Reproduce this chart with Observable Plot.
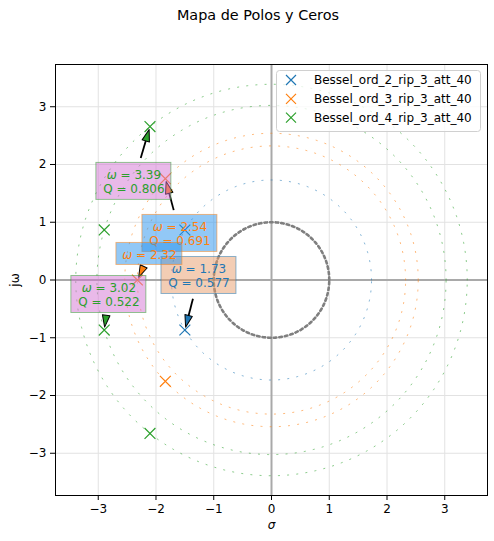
<!DOCTYPE html>
<html><head><meta charset="utf-8">
<script src="https://cdn.jsdelivr.net/npm/d3@7"></script>
<script src="https://cdn.jsdelivr.net/npm/@observablehq/plot@0.6"></script>
<style>
body{margin:0;background:#fff;font-family:"DejaVu Sans",sans-serif}
#wrap{position:relative;width:494px;height:541px;overflow:hidden}
#title{position:absolute;top:7px;left:0;width:516px;text-align:center;font-size:14.4px;color:#000}
#legend{position:absolute;left:276px;top:70px}
#wrap > svg.plot{position:absolute;left:0;top:0}
</style></head>
<body><div id="wrap"><div id="title">Mapa de Polos y Ceros</div></div>
<script>
// ---------- data ----------
const seriesNames = ["Bessel_ord_2_rip_3_att_40", "Bessel_ord_3_rip_3_att_40", "Bessel_ord_4_rip_3_att_40"];
const seriesColors = ["#1f77b4", "#ff7f0e", "#2ca02c"];

const poleSeries = [0, 0, 1, 1, 1, 2, 2, 2, 2];
const poleRe = [-1.5, -1.5, -1.838, -1.838, -2.322, -2.896, -2.896, -2.104, -2.104];
const poleIm = [0.866, -0.866, 1.754, -1.754, 0, 0.867, -0.867, 2.657, -2.657];

const annSeries = [0, 1, 1, 2, 2];
const annLabel = ["ω = 1.73\nQ = 0.577", "ω = 2.54\nQ = 0.691", "ω = 2.32", "ω = 3.39\nQ = 0.806", "ω = 3.02\nQ = 0.522"];
const annTargetRe = [-1.5, -1.838, -2.322, -2.104, -2.896];
const annTargetIm = [-0.866, 1.754, 0, 2.657, -0.867];
const annTextRe = [-1.256, -1.586, -2.114, -2.383, -2.816];
const annTextIm = [0.078, 0.806, 0.451, 1.707, -0.251];
const annBoxFill = ["#e79b69", "#2591ed", "#2591ed", "#d373d3", "#d373d3"];

const xTicks = [-3, -2, -1, 0, 1, 2, 3];
const yTicks = [-3, -2, -1, 0, 1, 2, 3];

// ---------- layout ----------
const W = 494, H = 541, ML = 55, MR = 7, MT = 64, MB = 46;
const xDomain = [-3.74, 3.74];
const k = (W - ML - MR) / (xDomain[1] - xDomain[0]);
const yHalf = (H - MT - MB) / k / 2;
const yDomain = [-yHalf, yHalf];

// ---------- derived tables ----------
const poles = poleRe.map((re, i) => ({re, im: poleIm[i], color: seriesColors[poleSeries[i]]}));

const angles = d3.range(0, 361, 1).map(a => a * Math.PI / 180);
const unitCircle = angles.map(a => ({x: Math.cos(a), y: Math.sin(a)}));

const circleDefs = [];
poles.forEach((p, i) => {
  if (p.im < 0) return;
  const r = Math.hypot(p.re, p.im);
  circleDefs.push({id: i, r, color: p.color});
});
const poleCircles = circleDefs.flatMap(c => angles.map(a => ({id: c.id, x: c.r * Math.cos(a), y: c.r * Math.sin(a), color: c.color})));

const anns = annLabel.map((label, i) => {
  const two = label.includes("\n");
  const hwPx = two ? 37.5 : 33, hhPx = two ? 18.5 : 11;
  const hw = hwPx / k, hh = hhPx / k;
  const cx = annTextRe[i], cy = annTextIm[i];
  const tx = annTargetRe[i], ty = annTargetIm[i];
  const dx = tx - cx, dy = ty - cy, len = Math.hypot(dx, dy);
  const ux = dx / len, uy = dy / len;
  const t = Math.min(hw / Math.abs(dx || 1e-9), hh / Math.abs(dy || 1e-9));
  const gap = (two ? 5 : 2) / k, shrink = 3 / k, head = 11 / k;
  const sx = cx + dx * t + ux * gap, sy = cy + dy * t + uy * gap;
  const tipX = tx - ux * shrink, tipY = ty - uy * shrink;
  return {
    label, color: seriesColors[annSeries[i]], boxFill: annBoxFill[i],
    cx, cy, x1: cx - hw, x2: cx + hw, y1: cy - hh, y2: cy + hh,
    sx, sy, bx: tipX - ux * head, by: tipY - uy * head, tipX, tipY,
    rot: Math.atan2(dx, dy) * 180 / Math.PI
  };
});

const headShape = {
  draw(context, l, r) {
    context.moveTo(0, -l);
    context.lineTo(r, 0);
    context.lineTo(-r, 0);
    context.closePath();
  }
};

const annMarks = anns.flatMap(a => [
  Plot.link([a], {x1: "sx", y1: "sy", x2: "bx", y2: "by", stroke: "black", strokeWidth: 1.8}),
  Plot.vector([a], {x: "tipX", y: "tipY", rotate: "rot", length: 12, r: 3.8, anchor: "end", shape: headShape, fill: a.color, stroke: "black", strokeWidth: 1}),
  Plot.rect([a], {x1: "x1", x2: "x2", y1: "y1", y2: "y2", fill: a.boxFill, fillOpacity: 0.5, stroke: a.color, strokeOpacity: 0.5, strokeWidth: 1}),
  Plot.text([a], {x: "cx", y: "cy", text: "label", fill: a.color, fontSize: 12, lineHeight: 1.2, textAnchor: "middle", lineAnchor: "middle"})
]);

const chart = Plot.plot({
  width: W, height: H,
  marginLeft: ML, marginRight: MR, marginTop: MT, marginBottom: MB,
  style: {fontFamily: "DejaVu Sans", fontSize: "12px", background: "transparent", color: "#000"},
  x: {domain: xDomain, ticks: xTicks, tickSize: 5, tickPadding: 4, label: null},
  y: {domain: yDomain, ticks: yTicks, tickSize: 5, tickPadding: 4, label: null},
  marks: [
    Plot.ruleX(xTicks, {stroke: "#e2e2e2", strokeWidth: 1}),
    Plot.ruleY(yTicks, {stroke: "#e2e2e2", strokeWidth: 1}),
    Plot.ruleX([0], {stroke: "#a9a9a9", strokeWidth: 2}),
    Plot.ruleY([0], {stroke: "#a9a9a9", strokeWidth: 2}),
    Plot.line(unitCircle, {x: "x", y: "y", stroke: "#7f7f7f", strokeWidth: 2.6, strokeDasharray: "2.6,3"}),
    Plot.line(poleCircles, {x: "x", y: "y", z: "id", stroke: "color", strokeWidth: 1, strokeDasharray: "1.2,8", strokeOpacity: 0.55}),
    Plot.dot(poles, {x: "re", y: "im", symbol: "times", r: 5, stroke: "color", strokeWidth: 1.2}),
    ...annMarks,
    Plot.text(["σ"], {text: d => d, frameAnchor: "bottom", dy: 30, fontSize: 12, fontStyle: "italic", lineAnchor: "middle"}),
    Plot.text(["jω"], {text: d => d, frameAnchor: "left", dx: -40, rotate: -90, fontSize: 12, lineAnchor: "middle", textAnchor: "middle"}),
    Plot.frame({stroke: "black", strokeWidth: 1})
  ]
});

// italic omega in annotations
const NS = "http://www.w3.org/2000/svg";
chart.querySelectorAll("text, tspan").forEach(el => {
  for (const node of [...el.childNodes]) {
    if (node.nodeType === 3 && node.nodeValue.startsWith("ω = ")) {
      const it = document.createElementNS(NS, "tspan");
      it.setAttribute("font-style", "italic");
      it.textContent = "ω";
      node.nodeValue = node.nodeValue.slice(1);
      el.insertBefore(it, node);
    }
  }
});

const wrap = document.getElementById("wrap");
wrap.appendChild(chart);

// legend (inside the axes, top right)
const leg = d3.select(wrap).append("svg").attr("id", "legend").attr("width", 206).attr("height", 63);
leg.append("rect").attr("x", 0.5).attr("y", 0.5).attr("width", 204).attr("height", 61).attr("rx", 3)
  .attr("fill", "white").attr("fill-opacity", 0.8).attr("stroke", "#d0d0d0");
seriesNames.forEach((name, i) => {
  const cy = 10 + i * 18.8;
  const g = leg.append("g").attr("transform", `translate(15,${cy})`);
  g.append("path").attr("d", "M-5,-5L5,5M-5,5L5,-5").attr("stroke", seriesColors[i]).attr("stroke-width", 1.2).attr("fill", "none");
  leg.append("text").attr("x", 38).attr("y", cy).attr("dy", "0.35em").attr("font-size", 12)
    .attr("font-family", "DejaVu Sans").attr("fill", "#000").text(name);
});
</script>
</body></html>
